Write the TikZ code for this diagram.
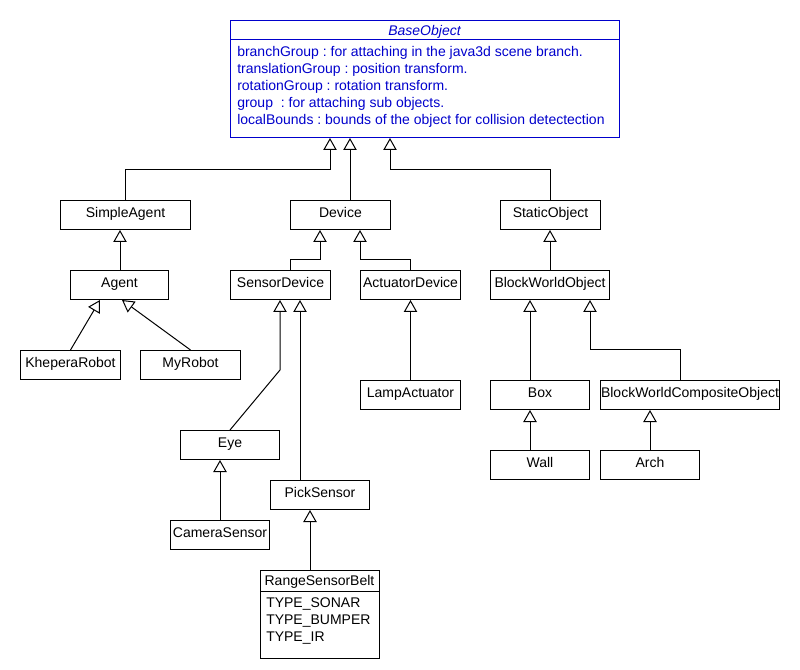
\documentclass[tikz,border=0pt]{standalone}
\usepackage{fontspec}
\setmainfont{Liberation Sans}
\usetikzlibrary{arrows.meta}
\definecolor{umlblue}{RGB}{0,0,204}
\frenchspacing
\tikzset{
  cls/.style={draw, line width=0.75pt, inner sep=0pt, text height=7pt, text depth=3.7pt, font=\fontsize{10.5}{12}\selectfont},
  inh/.style={draw, line width=0.75pt, -{Triangle[open, width=10pt, length=9pt, fill=white]}},
  attr/.style={inner sep=0pt, anchor=north west, align=left, font=\fontsize{10.5}{12.75}\selectfont},
}
\newcommand\cbox[6]{\node[cls, anchor=north west, minimum width={(#4-#2)*0.75pt}, minimum height={(#5-#3)*0.75pt}] (#1) at (#2,#3) {#6};}
\begin{document}
\begin{tikzpicture}[x=0.75pt,y=-0.75pt]
\useasboundingbox (0,0) rectangle (800,670);
% BaseObject
\node[draw=umlblue, line width=0.75pt, inner sep=0pt, anchor=north west, minimum width={389*0.75pt}, minimum height={117*0.75pt}] (base) at (230,20) {};
\draw[umlblue, line width=0.75pt] (base.north west |- 0,40) -- (base.north east |- 0,40);
\node[inner sep=0pt, text=umlblue, font=\fontsize{10.5}{12}\selectfont\itshape] (basetitle) at (424.5,32) {BaseObject};
\node[attr, text=umlblue] (baseattr) at (237,46.5) {branchGroup : for attaching in the java3d scene branch.\\
translationGroup : position transform.\\
rotationGroup : rotation transform.\\
group\ \ : for attaching sub objects.\\
localBounds : bounds of the object for collision detectection};
% classes
\cbox{sagent}{60}{200}{190}{229}{SimpleAgent}
\cbox{agent}{70}{270}{168}{299}{Agent}
\cbox{khepera}{20}{350}{120}{379}{KheperaRobot}
\cbox{myrobot}{140}{350}{240}{379}{MyRobot}
\cbox{device}{290}{200}{390}{229}{Device}
\cbox{sdev}{230}{270}{330}{299}{SensorDevice}
\cbox{adev}{360}{270}{460}{299}{ActuatorDevice}
\cbox{lamp}{360}{380}{460}{409}{LampActuator}
\cbox{eye}{180}{430}{279}{459}{Eye}
\cbox{camera}{170}{520}{269}{549}{CameraSensor}
\cbox{pick}{270}{480}{369}{509}{PickSensor}
\cbox{static}{500}{200}{600}{229}{StaticObject}
\cbox{bwo}{490}{270}{609}{299}{BlockWorldObject}
\cbox{box}{490}{380}{589}{409}{Box}
\cbox{bwco}{600}{380}{779}{409}{BlockWorldCompositeObject}
\cbox{wall}{490}{450}{589}{479}{Wall}
\cbox{arch}{600}{450}{699}{479}{Arch}
% RangeSensorBelt
\node[draw, line width=0.75pt, inner sep=0pt, anchor=north west, minimum width={119*0.75pt}, minimum height={88*0.75pt}] (range) at (260,570) {};
\draw[line width=0.75pt] (range.north west |- 0,591) -- (range.north east |- 0,591);
\node[inner sep=0pt, font=\fontsize{10.5}{12}\selectfont] (rangetitle) at (319.5,581.5) {RangeSensorBelt};
\node[attr] (rangeattr) at (266,597.5) {TYPE\_SONAR\\TYPE\_BUMPER\\TYPE\_IR};
% inheritance connectors
\draw[inh] (sagent.north) |- (330,170) -- (330,0 |- base.south);
\draw[inh] (350,0 |- device.north) -- (350,0 |- base.south);
\draw[inh] (static.north) |- (390,170) -- (390,0 |- base.south);
\draw[inh] (120,0 |- agent.north) -- (120,0 |- sagent.south);
\draw[inh] (khepera.north) -- (100,0 |- agent.south);
\draw[inh] (myrobot.north) -- (122,0 |- agent.south);
\draw[inh] (290,0 |- sdev.north) |- (320,260) -- (320,0 |- device.south);
\draw[inh] (adev.north) |- (360,260) -- (360,0 |- device.south);
\draw[inh] (eye.north) -- (280,370) -- (280,0 |- sdev.south);
\draw[inh] (300,0 |- pick.north) -- (300,0 |- sdev.south);
\draw[inh] (lamp.north) -- (adev.south);
\draw[inh] (220,0 |- camera.north) -- (220,0 |- eye.south);
\draw[inh] (310,0 |- range.north) -- (310,0 |- pick.south);
\draw[inh] (550,0 |- bwo.north) -- (550,0 |- static.south);
\draw[inh] (530,0 |- box.north) -- (530,0 |- bwo.south);
\draw[inh] (680,0 |- bwco.north) |- (590,350) -- (590,0 |- bwo.south);
\draw[inh] (530,0 |- wall.north) -- (530,0 |- box.south);
\draw[inh] (650,0 |- arch.north) -- (650,0 |- bwco.south);
\end{tikzpicture}
\end{document}
